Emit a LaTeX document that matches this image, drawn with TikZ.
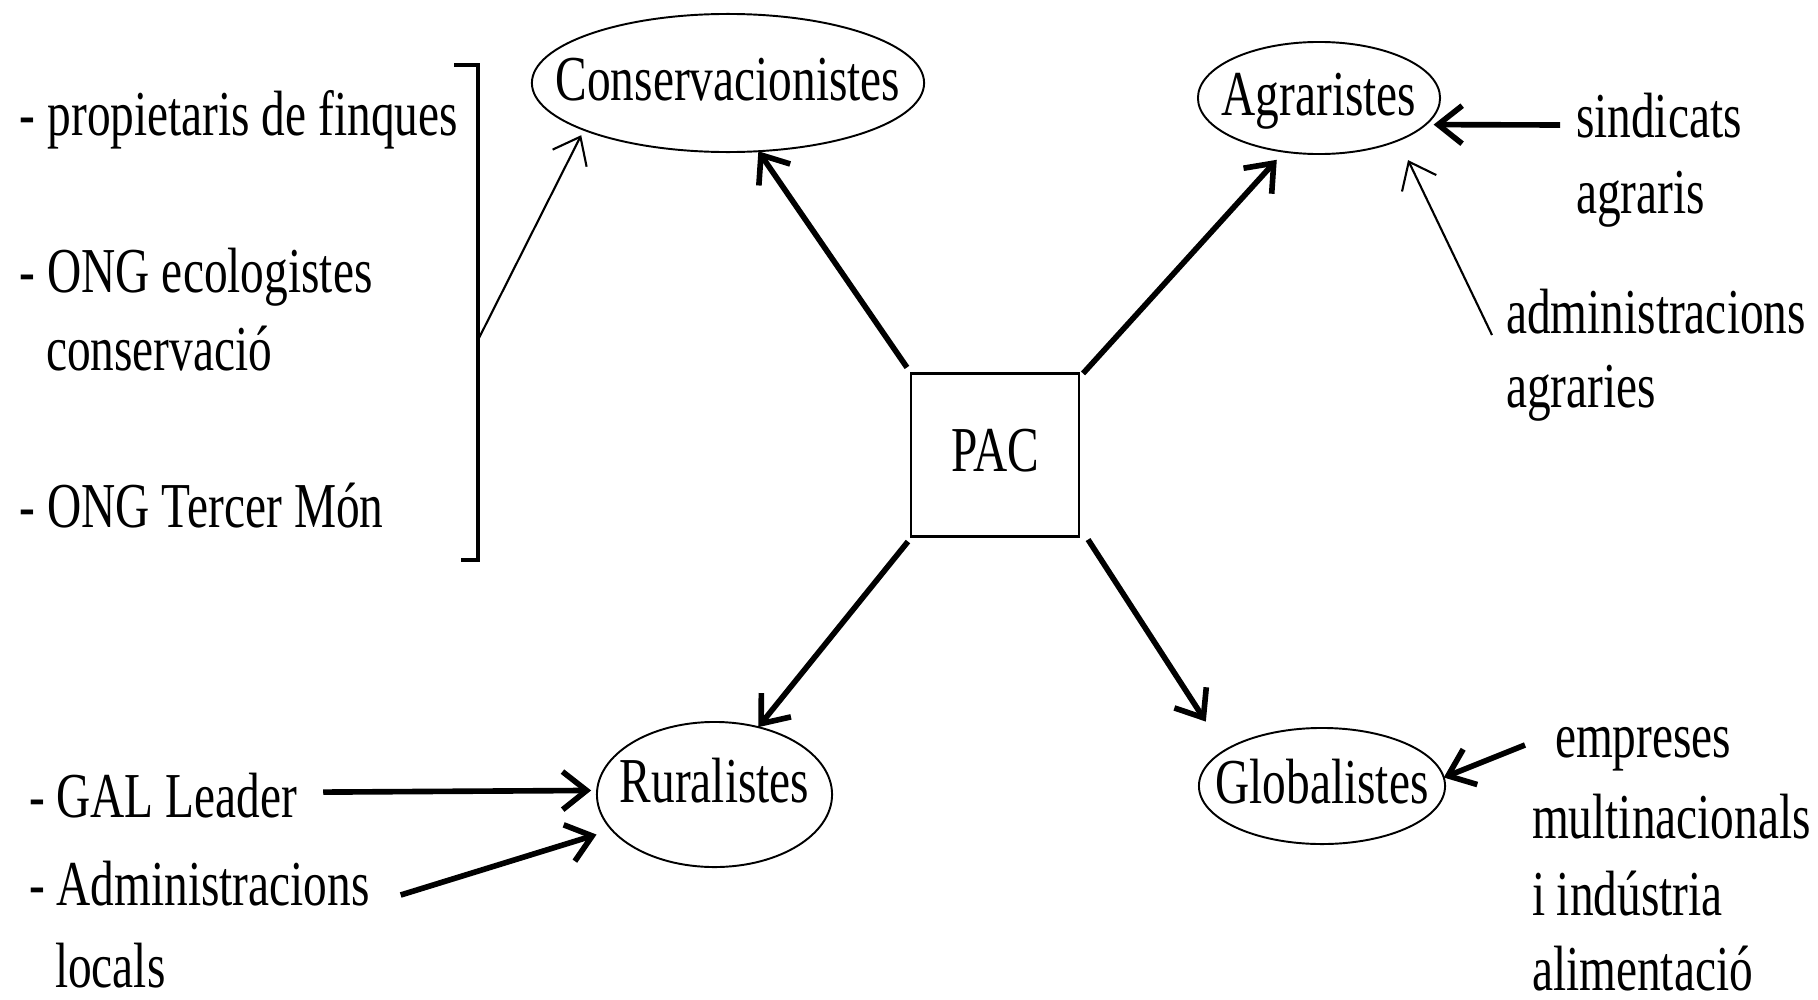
\documentclass[tikz,border=0pt]{standalone}
\usepackage{fontspec}
\setmainfont{Liberation Serif}[FakeStretch=0.74]
\usetikzlibrary{arrows.meta,shapes.geometric,calc}
\begin{document}
\begin{tikzpicture}[x=0.01cm,y=-0.01cm,
  every node/.style={font=\fontsize{18.2pt}{22pt}\selectfont, inner sep=0pt, outer sep=0pt},
  lbl/.style={anchor=base west},
  grp/.style={draw, ellipse, line width=0.55pt, text height=12.7pt, text depth=2.7pt},
  hub/.style={draw, rectangle, line width=0.6pt, text height=12pt, text depth=2.7pt},
  arw/.style={-{Straight Barb[length=2.4mm,width=3.8mm]}},
  fatarrow/.style={arw, line width=1.6pt},
  thinarrow/.style={arw, line width=0.6pt}]
\useasboundingbox (0,0) rectangle (1818,1000);
% groups
\node[grp, minimum width=3.92cm, minimum height=1.38cm] (cons) at (728,83) {\makebox[0pt]{Conservacionistes}};
\node[grp, minimum width=2.42cm, minimum height=1.12cm] (agr) at (1319,98) {\makebox[0pt]{Agraristes}};
\node[hub, minimum width=1.68cm, minimum height=1.63cm] (pac) at (995,455) {PAC};
\node[grp, minimum width=2.35cm, minimum height=1.45cm, text depth=8.2pt] (rur) at (714.5,794.5) {\makebox[0pt]{Ruralistes}};
\node[grp, minimum width=2.46cm, minimum height=1.16cm] (glob) at (1322,786) {\makebox[0pt]{Globalistes}};
% left labels
\node[lbl] (prop) at (20,135) {- propietaris de finques};
\node[lbl] (ong1) at (20,292) {- ONG ecologistes};
\node[lbl] (ong2) at (46,370) {conservació};
\node[lbl] (ong3) at (20,527) {- ONG Tercer Món};
\node[lbl] (gal) at (29,817) {- GAL Leader};
\node[lbl] (admL) at (29,905) {- Administracions};
\node[lbl] (loc) at (55,987) {locals};
% right labels
\node[lbl] (sind1) at (1576,137) {sindicats};
\node[lbl] (sind2) at (1576,213) {agraris};
\node[lbl] (adm1) at (1506,333) {administracions};
\node[lbl] (adm2) at (1506,407) {agraries};
\node[lbl] (emp1) at (1555,757) {empreses};
\node[lbl] (emp2) at (1532,838) {multinacionals};
\node[lbl] (emp3) at (1532,915) {i indústria};
\node[lbl] (emp4) at (1532,990) {alimentació};
% bracket
\coordinate (btop) at (478,65);
\coordinate (bbot) at (478,560);
\coordinate (bmid) at (478,340);
\draw[line width=0.9pt] (btop) -- (bbot);
\draw[line width=1.4pt] (454,65) -- ([xshift=0.45pt]btop);
\draw[line width=1.4pt] (461,560) -- ([xshift=0.45pt]bbot);
% connectors
\draw[thinarrow, shorten >=0.6mm] (bmid) -- (cons.198);
\draw[fatarrow] ($(pac.north west)+(-4,-6)$) -- (cons.-66);
\draw[fatarrow, shorten >=1.1mm] ($(pac.north east)+(4,0)$) -- (agr.-123.5);
\draw[fatarrow, shorten >=0.8mm] ($(sind1.base west)+(-16,-12)$) -- (agr.-14);
\draw[thinarrow, shorten >=2.2mm] ($(adm1.base west)+(-14,2)$) -- (agr.-28);
\draw[fatarrow] ($(pac.south west)+(-3,5)$) -- (rur.57);
\draw[fatarrow, shorten >=3.45mm] ($(pac.south east)+(9,3)$) -- (glob.160.5);
\draw[fatarrow, shorten >=0.6mm] ($(gal.east)+(26,-3)$) -- (rur.178);
\draw[fatarrow, shorten >=1.6mm] ($(admL.base east)+(31,-10)$) -- (rur.199.4);
\draw[fatarrow] ($(emp1.base west)+(-30,-12)$) -- (glob.4);
\end{tikzpicture}
\end{document}
